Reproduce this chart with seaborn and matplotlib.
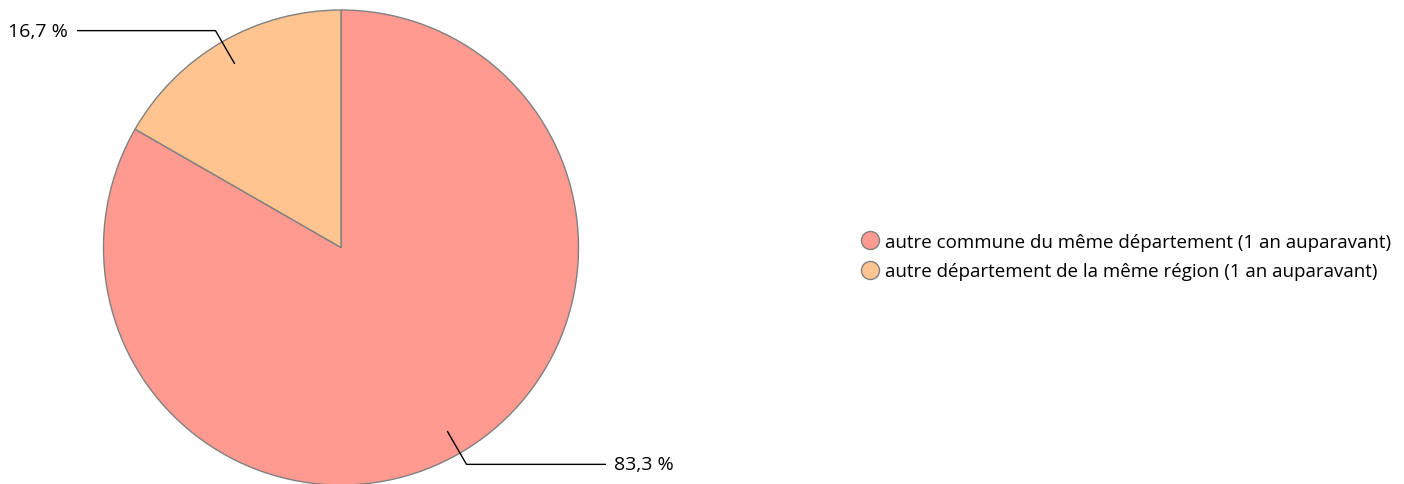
import numpy as np
import seaborn as sns
import matplotlib.pyplot as plt
from matplotlib.lines import Line2D

labels = ["autre commune du même département (1 an auparavant)",
          "autre département de la même région (1 an auparavant)"]
values = [83.3, 16.7]
value_labels = ["83,3 %", "16,7 %"]
colors = ["#FF9A90", "#FFC48F"]

sns.set_theme(style="white")
plt.rcParams['font.family'] = ['Open Sans', 'DejaVu Sans']
plt.rcParams['text.color'] = 'black'

W, H = 1404, 485
fig = plt.figure(figsize=(W / 100, H / 100), dpi=100)
ax = fig.add_axes([0, 0, 1, 1])

cx, cy, r = 341, H - 248.5, 237.5
wedges, _ = ax.pie(values, colors=colors, startangle=90, counterclock=False,
                   center=(cx, cy), radius=r, frame=True,
                   wedgeprops=dict(edgecolor="#808080", linewidth=1.0))
ax.set_xlim(0, W)
ax.set_ylim(0, H)
ax.set_aspect('equal')
ax.axis('off')

# leader lines with labels
for w, txt in zip(wedges, value_labels):
    ang = np.deg2rad((w.theta1 + w.theta2) / 2)
    x0, y0 = cx + 0.895 * r * np.cos(ang), cy + 0.895 * r * np.sin(ang)
    x1, y1 = cx + 1.055 * r * np.cos(ang), cy + 1.055 * r * np.sin(ang)
    if np.cos(ang) < 0:
        x2 = x1 - 138
        ax.plot([x0, x1, x2], [y0, y1, y1], color="black", lw=1)
        ax.text(x2 - 10, y1, txt, ha="right", va="center", fontsize=14)
    else:
        x2 = x1 + 139
        ax.plot([x0, x1, x2], [y0, y1, y1], color="black", lw=1)
        ax.text(x2 + 8, y1, txt, ha="left", va="center", fontsize=14)

handles = [Line2D([], [], marker='o', linestyle='none', markersize=13,
                  markerfacecolor=c, markeredgecolor="#808080", markeredgewidth=1)
           for c in colors]
fig.legend(handles, labels, loc="center left", bbox_to_anchor=(850 / W, 1 - 257.5 / H),
           frameon=False, fontsize=13.5, handletextpad=0.25, labelspacing=0.62,
           borderpad=0, handlelength=1.1, labelcolor="black")

fig.savefig("out.png", dpi=100)
